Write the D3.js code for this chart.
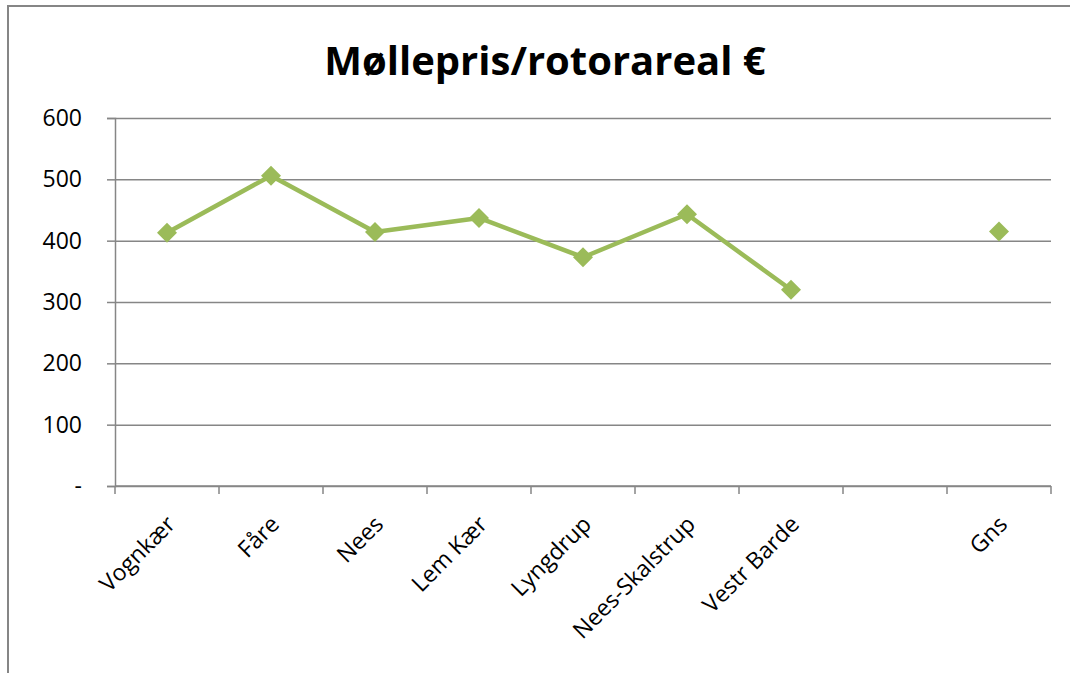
<!DOCTYPE html>
<html>
<head>
<meta charset="utf-8">
<script src="https://cdn.jsdelivr.net/npm/d3@7"></script>
<style>
  body { margin: 0; background: #fff; }
  svg { display: block; font-family: "Open Sans", sans-serif; }
</style>
</head>
<body>
<div id="chart"></div>
<script>
// data
const categories = ["Vognkær", "Fåre", "Nees", "Lem Kær", "Lyngdrup", "Nees-Skalstrup", "Vestr Barde", "", "Gns"];
const values = [413, 506, 414, 437, 373, 443, 320, null, 415];
const yTicks = [0, 100, 200, 300, 400, 500, 600];
const yTickLabels = ["-", "100", "200", "300", "400", "500", "600"];
const title = "Møllepris/rotorareal €";

const width = 1070, height = 673;
const margin = { top: 118, right: 19, bottom: 187, left: 115 };
const green = "#9bbb59";
const gray = "#868686";

const svg = d3.select("#chart").append("svg")
    .attr("width", width)
    .attr("height", height);

// chart frame
svg.append("rect")
    .attr("x", 8)
    .attr("y", 6)
    .attr("width", width + 20)
    .attr("height", height + 20)
    .attr("fill", "none")
    .attr("stroke", gray)
    .attr("stroke-width", 2);

// Title
svg.append("text")
    .attr("x", 545)
    .attr("y", 75)
    .attr("text-anchor", "middle")
    .attr("font-size", "40px")
    .attr("font-weight", "bold")
    .style("fill", "black")
    .text(title);

const x = d3.scaleBand()
    .domain(d3.range(categories.length))
    .range([margin.left, width - margin.right]);

const y = d3.scaleLinear()
    .domain([0, 600])
    .range([height - margin.bottom, margin.top]);

// Grid lines
svg.append("g")
    .attr("transform", `translate(${margin.left},0)`)
    .call(d3.axisLeft(y)
        .tickValues(yTicks)
        .tickSize(-(width - margin.left - margin.right))
        .tickFormat("")
    )
    .call(g => g.select(".domain").remove())
    .call(g => g.selectAll("line").attr("stroke", gray).attr("stroke-width", 1.5));

// Y axis
svg.append("g")
    .attr("transform", `translate(${margin.left},0)`)
    .call(d3.axisLeft(y)
        .tickValues(yTicks)
        .tickSize(8)
        .tickPadding(25)
        .tickFormat((d, i) => yTickLabels[i])
    )
    .call(g => g.select(".domain").attr("stroke", gray).attr("stroke-width", 1.5))
    .call(g => g.selectAll("line").attr("stroke", gray).attr("stroke-width", 1.5))
    .call(g => g.selectAll("text")
        .attr("font-size", "23px")
        .attr("font-family", "Open Sans, sans-serif")
        .style("fill", "black"));

// X axis: ticks between categories
const xAxis = svg.append("g")
    .attr("transform", `translate(0,${height - margin.bottom})`);

xAxis.append("line")
    .attr("x1", margin.left)
    .attr("x2", width - margin.right)
    .attr("stroke", gray)
    .attr("stroke-width", 1.5);

xAxis.selectAll(".tick")
    .data(d3.range(categories.length + 1))
    .join("line")
    .attr("x1", i => i < categories.length ? x(i) : x(categories.length - 1) + x.bandwidth())
    .attr("x2", i => i < categories.length ? x(i) : x(categories.length - 1) + x.bandwidth())
    .attr("y1", 0)
    .attr("y2", 8)
    .attr("stroke", gray)
    .attr("stroke-width", 1.5);

xAxis.selectAll(".lbl")
    .data(categories)
    .join("text")
    .attr("transform", (d, i) => `translate(${x(i) + x.bandwidth() / 2 + 4},${34}) rotate(-45)`)
    .attr("text-anchor", "end")
    .attr("dy", "0.35em")
    .attr("font-size", "23px")
    .style("fill", "black")
    .text(d => d);

// Line
const pts = values.map((v, i) => ({ i, v }));
const line = d3.line()
    .defined(d => d.v != null)
    .x(d => x(d.i) + x.bandwidth() / 2)
    .y(d => y(d.v));

svg.append("path")
    .datum(pts)
    .attr("fill", "none")
    .attr("stroke", green)
    .attr("stroke-width", 4.5)
    .attr("stroke-linejoin", "round")
    .attr("d", line);

// Markers
svg.append("g")
    .selectAll("path")
    .data(pts.filter(d => d.v != null))
    .join("path")
    .attr("transform", d => `translate(${x(d.i) + x.bandwidth() / 2},${y(d.v)})`)
    .attr("d", "M0,-10L10,0L0,10L-10,0Z")
    .attr("fill", green);
</script>
</body>
</html>
